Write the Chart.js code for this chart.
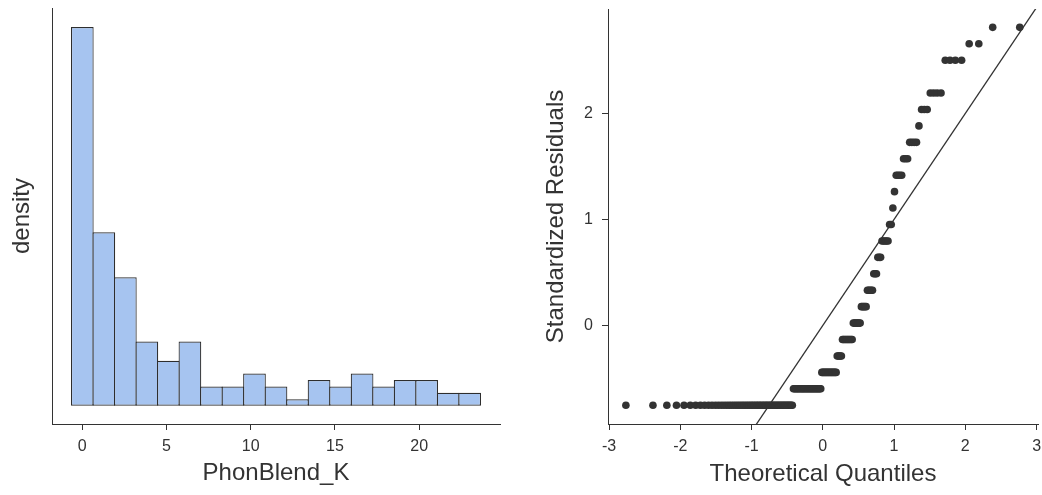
<!DOCTYPE html>
<html>
<head>
<meta charset="utf-8">
<script src="https://cdn.jsdelivr.net/npm/chart.js@4.4.0/dist/chart.umd.min.js"></script>
<style>
  body { margin: 0; background: #fff; }
  #wrap { position: relative; width: 1042px; height: 495px; }
  canvas { position: absolute; top: 0; }
  #hist { left: 0; }
  #qq { left: 521px; }
</style>
</head>
<body>
<div id="wrap">
  <canvas id="hist" width="521" height="495"></canvas>
  <canvas id="qq" width="521" height="495"></canvas>
</div>
<script>
// left panel: histogram of PhonBlend_K, 19 bins of width 23/18
const binCenters = [0, 1.2778, 2.5556, 3.8333, 5.1111, 6.3889, 7.6667, 8.9444, 10.2222, 11.5,
  12.7778, 14.0556, 15.3333, 16.6111, 17.8889, 19.1667, 20.4444, 21.7222, 23];
const binCounts = [59, 27, 20, 10, 7, 10, 3, 3, 5, 3, 1, 4, 3, 5, 3, 4, 4, 2, 2];
const histXTicks = [0, 5, 10, 15, 20];

// right panel: standardized residual levels and how many cases sit on each
const residualLevels = [-0.753, -0.598, -0.443, -0.288, -0.133, 0.022, 0.177, 0.332, 0.487, 0.642,
  0.797, 0.952, 1.107, 1.262, 1.417, 1.572, 1.727, 1.882, 2.037, 2.192, 2.502, 2.657, 2.812];
const residualCounts = [59, 27, 15, 5, 10, 7, 5, 5, 3, 3, 5, 2, 1, 1, 4, 3, 4, 1, 3, 4, 4, 2, 2];
const theoreticalQ = [
  -2.764, -2.384, -2.189, -2.054, -1.948, -1.860, -1.785, -1.718, -1.659, -1.604,
  -1.555, -1.508, -1.465, -1.424, -1.386, -1.349, -1.315, -1.282, -1.250, -1.219,
  -1.190, -1.161, -1.133, -1.107, -1.080, -1.055, -1.030, -1.006, -0.983, -0.960,
  -0.937, -0.915, -0.894, -0.873, -0.852, -0.831, -0.811, -0.792, -0.772, -0.753,
  -0.734, -0.715, -0.697, -0.679, -0.661, -0.643, -0.626, -0.608, -0.591, -0.574,
  -0.557, -0.541, -0.524, -0.508, -0.492, -0.476, -0.460, -0.444, -0.428, -0.412,
  -0.397, -0.381, -0.366, -0.351, -0.336, -0.321, -0.305, -0.290, -0.276, -0.261,
  -0.246, -0.231, -0.217, -0.202, -0.187, -0.173, -0.158, -0.144, -0.129, -0.115,
  -0.100, -0.086, -0.072, -0.057, -0.043, -0.029, -0.014, 0,
  0.014, 0.029, 0.043, 0.057, 0.072, 0.086, 0.100, 0.115, 0.129, 0.144,
  0.158, 0.173, 0.187, 0.202, 0.217, 0.231, 0.246, 0.261, 0.276, 0.290,
  0.305, 0.321, 0.336, 0.351, 0.366, 0.381, 0.397, 0.412, 0.428, 0.444,
  0.460, 0.476, 0.492, 0.508, 0.524, 0.541, 0.557, 0.574, 0.591, 0.608,
  0.626, 0.643, 0.661, 0.679, 0.697, 0.715, 0.734, 0.753, 0.772, 0.792,
  0.811, 0.831, 0.852, 0.873, 0.894, 0.915, 0.937, 0.960, 0.983, 1.006,
  1.030, 1.055, 1.080, 1.107, 1.133, 1.161, 1.190, 1.219, 1.250, 1.282,
  1.315, 1.349, 1.386, 1.424, 1.465, 1.508, 1.555, 1.604, 1.659, 1.718,
  1.785, 1.860, 1.948, 2.054, 2.189, 2.384, 2.764];
const qqXTicks = [-3, -2, -1, 0, 1, 2, 3];
const qqYTicks = [0, 1, 2];
const refLineX = [-3.1, 3.1];   // reference line y = x

Chart.defaults.font.family = "'Liberation Sans', Arial, sans-serif";
Chart.defaults.color = '#333';

const ink = '#333';
const tickFont = { size: 16 };
const titleFont = { size: 24 };
const setTicks = (vals) => (s) => { s.ticks = vals.map(v => ({ value: v })); };
// fixed axis boxes, and no extra room reserved for edge labels
const fitBox = (w, h) => (s) => {
  if (w != null) s.width = w;
  if (h != null) s.height = h;
  s.paddingTop = s.paddingBottom = s.paddingLeft = s.paddingRight = 0;
};

new Chart(document.getElementById('hist'), {
  type: 'bar',
  data: {
    datasets: [{
      data: binCenters.map((c, i) => ({ x: c, y: binCounts[i] })),
      backgroundColor: '#a6c4f0',
      borderColor: '#2e2e2e',
      borderWidth: 1.2,
      borderSkipped: false,
      barPercentage: 1.055,
      categoryPercentage: 1
    }]
  },
  options: {
    responsive: false,
    animation: false,
    layout: { padding: { left: 0, top: 8, right: 21, bottom: 0 } },
    plugins: { legend: { display: false }, tooltip: { enabled: false } },
    scales: {
      x: {
        type: 'linear',
        min: -1.8, max: 24.8,
        offset: false,
        afterBuildTicks: setTicks(histXTicks),
        afterFit: fitBox(null, 71),
        grid: { display: true, offset: false, drawOnChartArea: false, tickLength: 6, color: ink },
        border: { display: true, color: ink, width: 1 },
        ticks: { font: tickFont, padding: 7, maxRotation: 0 },
        title: { display: true, text: 'PhonBlend_K', font: titleFont, padding: { top: 0, bottom: 7 } }
      },
      y: {
        min: -2.85, max: 61.95,
        afterFit: fitBox(52, null),
        grid: { display: false },
        border: { display: true, color: ink, width: 1 },
        ticks: { display: false },
        title: { display: true, text: 'density', font: titleFont, padding: { top: 8, bottom: 0 } }
      }
    }
  }
});

const sortedResiduals = [];
residualLevels.forEach((r, i) => {
  for (let k = 0; k < residualCounts[i]; k++) sortedResiduals.push(r);
});

new Chart(document.getElementById('qq'), {
  type: 'scatter',
  data: {
    datasets: [{
      data: theoreticalQ.map((q, i) => ({ x: q, y: sortedResiduals[i] })),
      backgroundColor: ink,
      borderWidth: 0,
      pointRadius: 3.8
    }, {
      type: 'line',
      data: refLineX.map(v => ({ x: v, y: v })),
      borderColor: ink,
      borderWidth: 1.3,
      pointRadius: 0,
      fill: false
    }]
  },
  options: {
    responsive: false,
    animation: false,
    layout: { padding: { left: 0, top: 9, right: 4, bottom: 0 } },
    plugins: { legend: { display: false }, tooltip: { enabled: false } },
    scales: {
      x: {
        type: 'linear',
        min: -3.015, max: 3.02,
        afterBuildTicks: setTicks(qqXTicks),
        afterFit: fitBox(null, 71),
        grid: { display: true, drawOnChartArea: false, tickLength: 6, color: ink },
        border: { display: true, color: ink, width: 1 },
        ticks: { font: tickFont, padding: 7, maxRotation: 0 },
        title: { display: true, text: 'Theoretical Quantiles', font: titleFont, padding: { top: 0, bottom: 6 } }
      },
      y: {
        type: 'linear',
        min: -0.93, max: 2.985,
        afterBuildTicks: setTicks(qqYTicks),
        afterFit: fitBox(87, null),
        grid: { display: true, drawOnChartArea: false, tickLength: 6, color: ink },
        border: { display: true, color: ink, width: 1 },
        ticks: { font: tickFont, padding: 9 },
        title: { display: true, text: 'Standardized Residuals', font: titleFont, padding: { top: 21, bottom: 0 } }
      }
    }
  }
});
</script>
</body>
</html>
